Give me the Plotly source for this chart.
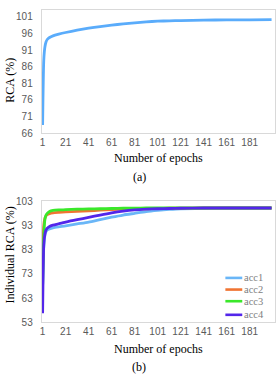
import plotly.graph_objects as go

# ---- data ----
epochs_a = [1, 2, 3, 4, 5, 7, 10, 15, 21, 31, 41, 51, 61, 71, 81, 91, 101, 111, 121, 141, 161, 181, 200]
rca = [68.5, 88.0, 92.0, 93.5, 94.2, 94.8, 95.3, 95.8, 96.3, 97.0, 97.6, 98.1, 98.5, 98.9, 99.2, 99.5,
       99.7, 99.8, 99.9, 100.0, 100.1, 100.1, 100.2]

epochs_b = [1, 2, 3, 4, 5, 7, 10, 15, 21, 31, 41, 51, 61, 71, 81, 91, 101, 111, 121, 141, 161, 181, 200]
acc1 = [68.0, 84.0, 89.0, 90.5, 91.2, 91.6, 92.0, 92.4, 92.8, 93.6, 94.4, 95.4, 96.4, 97.3, 98.0, 98.7,
        99.2, 99.6, 99.9, 100.1, 100.2, 100.2, 100.2]
acc2 = [76.5, 93.0, 96.0, 97.0, 97.5, 97.9, 98.2, 98.4, 98.6, 98.8, 99.0, 99.3, 99.5, 99.7, 99.8, 99.9,
        100.0, 100.1, 100.1, 100.2, 100.2, 100.2, 100.2]
acc3 = [68.5, 88.5, 95.5, 97.3, 98.0, 98.8, 99.2, 99.4, 99.5, 99.7, 99.8, 99.9, 100.0, 100.1, 100.1, 100.2,
        100.2, 100.2, 100.2, 100.2, 100.2, 100.2, 100.2]
acc4 = [56.7, 85.0, 89.5, 91.2, 91.9, 92.6, 93.1, 93.7, 94.4, 95.4, 96.3, 97.3, 98.2, 98.9, 99.4, 99.7,
        99.9, 100.0, 100.1, 100.2, 100.2, 100.2, 100.2]

x_ticks = [1, 21, 41, 61, 81, 101, 121, 141, 161, 181]
y_ticks_a = [66, 71, 76, 81, 86, 91, 96, 101]
y_ticks_b = [53, 63, 73, 83, 93, 103]

series_names = ["acc1", "acc2", "acc3", "acc4"]
series_vals = [acc1, acc2, acc3, acc4]
series_cols = ["#6ab6f7", "#f07432", "#3ae82a", "#5326ea"]

W, H = 277, 382
fig = go.Figure()

fig.add_trace(go.Scatter(x=epochs_a, y=rca, mode="lines",
                         line=dict(color="#5aacfb", width=2.8, shape="spline", smoothing=0.6),
                         xaxis="x", yaxis="y", showlegend=False))
for name, vals, col in zip(series_names, series_vals, series_cols):
    fig.add_trace(go.Scatter(x=epochs_b, y=vals, mode="lines", name=name, showlegend=False,
                             line=dict(color=col, width=2.8, shape="spline", smoothing=0.6),
                             xaxis="x2", yaxis="y2"))

def px(v):
    return v / W

def py(v):
    return 1 - v / H

tickfont = dict(family="Liberation Sans", size=10, color="#595959")
common_x = dict(range=[0.2, 203], tickmode="array", tickvals=x_ticks, showgrid=False, zeroline=False,
                showline=True, linecolor="#d9d9d9", linewidth=1, mirror=True, ticks="",
                tickfont=tickfont, ticklabelstandoff=0, domain=[px(40), px(275)])
common_y = dict(showgrid=False, zeroline=False, showline=True, linecolor="#d9d9d9", linewidth=1,
                mirror=True, ticks="", tickfont=tickfont, ticklabelstandoff=6, tickmode="array")

fig.update_layout(
    width=W, height=H, margin=dict(l=0, r=0, t=0, b=0),
    paper_bgcolor="white", plot_bgcolor="white",
    xaxis=dict(**common_x, anchor="y"),
    yaxis=dict(**common_y, range=[66, 103.2], tickvals=y_ticks_a, domain=[py(132), py(4.7)], anchor="x"),
    xaxis2=dict(**common_x, anchor="y2"),
    yaxis2=dict(**common_y, range=[53, 103.3], tickvals=y_ticks_b, domain=[py(326.7), py(201.3)], anchor="x2"),
    showlegend=False,
)

# manual legend inside lower plot (bottom-right)
leg_y = [281, 293, 305, 319]
for name, col, ly in zip(series_names, series_cols, leg_y):
    fig.add_shape(type="line", xref="paper", yref="paper", x0=px(225), x1=px(242), y0=py(ly), y1=py(ly),
                  line=dict(color=col, width=2.6))
    fig.add_annotation(text=name, x=px(242), y=py(ly), xref="paper", yref="paper", showarrow=False,
                       xanchor="left", yanchor="middle",
                       font=dict(family="Liberation Serif", size=10.5, color="#808080"))

serif = dict(family="Liberation Serif", size=12, color="black")
annots = [
    ("Number of epochs", 158, 158, 0),
    ("(a)", 138, 177, 0),
    ("RCA (%)", 8, 77, -90),
    ("Number of epochs", 158, 354, 0),
    ("(b)", 138, 373, 0),
    ("Individual RCA (%)", 8, 257, -90),
]
for text, ax_, ay_, ang in annots:
    fig.add_annotation(text=text, x=px(ax_), y=py(ay_), xref="paper", yref="paper", showarrow=False,
                       xanchor="center", yanchor="middle", textangle=ang, font=serif)

fig.write_html("out.html", config={"displayModeBar": False},
               post_script="document.body.style.margin='0';document.body.style.overflow='hidden';")
